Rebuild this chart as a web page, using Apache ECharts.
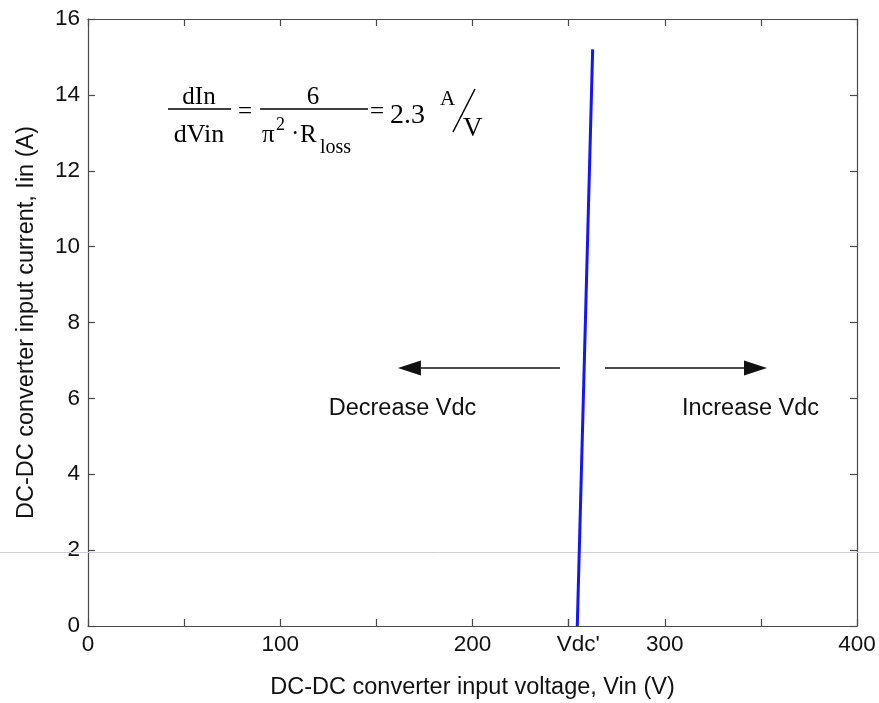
<!DOCTYPE html>
<html>
<head>
<meta charset="utf-8">
<script src="https://cdn.jsdelivr.net/npm/echarts@6/dist/echarts.min.js"></script>
<style>
  html, body { margin: 0; padding: 0; background: #fff; }
  #chart { width: 879px; height: 703px; }
</style>
</head>
<body>
<div id="chart"></div>
<script>
// Input characteristic of the DC-DC converter: Iin against Vin
const vinValues = [254.5, 262.5];
const iinValues = [0, 15.2];

// Axis ticks and labels
const xTickValues = [0, 50, 100, 150, 200, 250, 300, 350, 400];
const xLabelValues = [0, 100, 200, 300, 400];
const vdcTickValue = 250;
const vdcLabelValue = 255;
const vdcLabelText = "Vdc'";
const yTickValues = [0, 2, 4, 6, 8, 10, 12, 14, 16];

// Direction arrows and their captions (data coordinates)
const arrowLevel = 6.8;
const decreaseArrow = [245.5, 161.2];
const increaseArrow = [268.9, 353.2];
const captionLevel = 5.72;
const decreaseCaption = { x: 163.6, text: 'Decrease Vdc' };
const increaseCaption = { x: 344.6, text: 'Increase Vdc' };

const SANS = '"Liberation Sans", Arial, sans-serif';
const SERIF = '"Liberation Serif", "Times New Roman", serif';
const AXIS_COLOR = '#4a4a4a';

const chart = echarts.init(document.getElementById('chart'), null, { renderer: 'canvas' });

const xBottomTicks = xTickValues.concat([vdcTickValue]).sort((a, b) => a - b);
const xBottomLabels = xLabelValues.concat([vdcLabelValue]).sort((a, b) => a - b);

chart.setOption({
  backgroundColor: '#ffffff',
  animation: false,
  grid: { left: 88, right: 22, top: 19, bottom: 77, containLabel: false, outerBoundsMode: 'none' },
  xAxis: [
    {
      type: 'value', min: 0, max: 400, position: 'bottom',
      name: 'DC-DC converter input voltage, Vin (V)',
      nameLocation: 'middle', nameGap: 50,
      nameTextStyle: { fontFamily: SANS, fontSize: 23.5, color: '#111' },
      axisLine: { show: true, onZero: false, lineStyle: { color: AXIS_COLOR, width: 1.2 } },
      axisTick: { show: true, inside: true, length: 7, customValues: xBottomTicks,
        lineStyle: { color: AXIS_COLOR, width: 1.2 } },
      axisLabel: { customValues: xBottomLabels, margin: 7, fontFamily: SANS, fontSize: 22.5, color: '#111',
        formatter: v => (v === vdcLabelValue ? vdcLabelText : String(v)) },
      splitLine: { show: false }
    },
    {
      type: 'value', min: 0, max: 400, position: 'top',
      axisLine: { show: true, onZero: false, lineStyle: { color: AXIS_COLOR, width: 1.2 } },
      axisTick: { show: true, inside: true, length: 7, customValues: xTickValues,
        lineStyle: { color: AXIS_COLOR, width: 1.2 } },
      axisLabel: { show: false },
      splitLine: { show: false }
    }
  ],
  yAxis: [
    {
      type: 'value', min: 0, max: 16, interval: 2, position: 'left',
      name: 'DC-DC converter input current, Iin (A)',
      nameLocation: 'middle', nameGap: 49, nameRotate: 90,
      nameTextStyle: { fontFamily: SANS, fontSize: 23.5, color: '#111' },
      axisLine: { show: true, onZero: false, lineStyle: { color: AXIS_COLOR, width: 1.2 } },
      axisTick: { show: true, inside: true, length: 7, customValues: yTickValues,
        lineStyle: { color: AXIS_COLOR, width: 1.2 } },
      axisLabel: { margin: 8, fontFamily: SANS, fontSize: 22.5, color: '#111' },
      splitLine: { show: false }
    },
    {
      type: 'value', min: 0, max: 16, interval: 2, position: 'right',
      axisLine: { show: true, onZero: false, lineStyle: { color: AXIS_COLOR, width: 1.2 } },
      axisTick: { show: true, inside: true, length: 7, customValues: yTickValues,
        lineStyle: { color: AXIS_COLOR, width: 1.2 } },
      axisLabel: { show: false },
      splitLine: { show: false }
    }
  ],
  series: [
    {
      type: 'line',
      xAxisIndex: 0, yAxisIndex: 0,
      data: vinValues.map((v, i) => [v, iinValues[i]]),
      showSymbol: false,
      lineStyle: { color: '#1515f5', width: 3 },
      z: 5
    }
  ]
});

// Annotations: slope formula, direction arrows and captions
function px(x, y) { return chart.convertToPixel({ xAxisIndex: 0, yAxisIndex: 0 }, [x, y]); }

function arrow(fromX, toX, level) {
  const a = px(fromX, level), b = px(toX, level);
  const dir = Math.sign(b[0] - a[0]);
  const headLen = 23, headHalf = 7.5;
  const base = b[0] - dir * headLen;
  return [
    { type: 'line', shape: { x1: a[0], y1: a[1], x2: base, y2: b[1] },
      style: { stroke: '#111', lineWidth: 1.6 }, z: 10 },
    { type: 'polygon', shape: { points: [[b[0], b[1]], [base, b[1] - headHalf], [base, b[1] + headHalf]] },
      style: { fill: '#111' }, z: 10 }
  ];
}

function caption(c) {
  const p = px(c.x, captionLevel);
  return { type: 'text', x: p[0], y: p[1], z: 10,
    style: { text: c.text, fontFamily: SANS, fontSize: 23.5, fill: '#111', align: 'center', verticalAlign: 'middle' } };
}

// Serif formula pieces; y is the text baseline
function t(text, x, baseline, size, align) {
  return { type: 'text', x: x, y: baseline - 0.2 * size, z: 10,
    style: { text: text, fontFamily: SERIF, fontSize: size, fill: '#000',
      align: align || 'center', verticalAlign: 'middle' } };
}
function rule(x1, x2, y) {
  return { type: 'line', shape: { x1: x1, y1: y, x2: x2, y2: y }, style: { stroke: '#000', lineWidth: 1.4 }, z: 10 };
}

const formula = [
  t('dIn', 199, 102, 25),
  rule(168, 231, 109),
  t('dVin', 199, 140, 26),
  t('=', 245, 117, 25),
  t('6', 313, 102, 25),
  rule(260, 368, 109),
  t('\u03c0', 262, 140, 25, 'left'),
  t('2', 276, 129, 18, 'left'),
  t('\u00b7', 291, 139, 25, 'left'),
  t('R', 300, 140, 25, 'left'),
  t('loss', 320, 152, 20, 'left'),
  t('=', 377, 117, 25),
  t('2.3', 390, 121, 28, 'left'),
  t('A', 440, 104, 21, 'left'),
  { type: 'line', shape: { x1: 453, y1: 132, x2: 475, y2: 89 }, style: { stroke: '#000', lineWidth: 1.5 }, z: 10 },
  t('V', 463, 134, 27, 'left')
];

// Thin grey scan line running across the page
const scanLine = { type: 'line', shape: { x1: 0, y1: 552.5, x2: 879, y2: 552.5 },
  style: { stroke: '#cfcfd8', lineWidth: 1 }, z: 1, silent: true };

chart.setOption({
  graphic: [].concat(
    arrow(decreaseArrow[0], decreaseArrow[1], arrowLevel),
    arrow(increaseArrow[0], increaseArrow[1], arrowLevel),
    [caption(decreaseCaption), caption(increaseCaption)],
    formula,
    [scanLine]
  )
});
</script>
</body>
</html>
